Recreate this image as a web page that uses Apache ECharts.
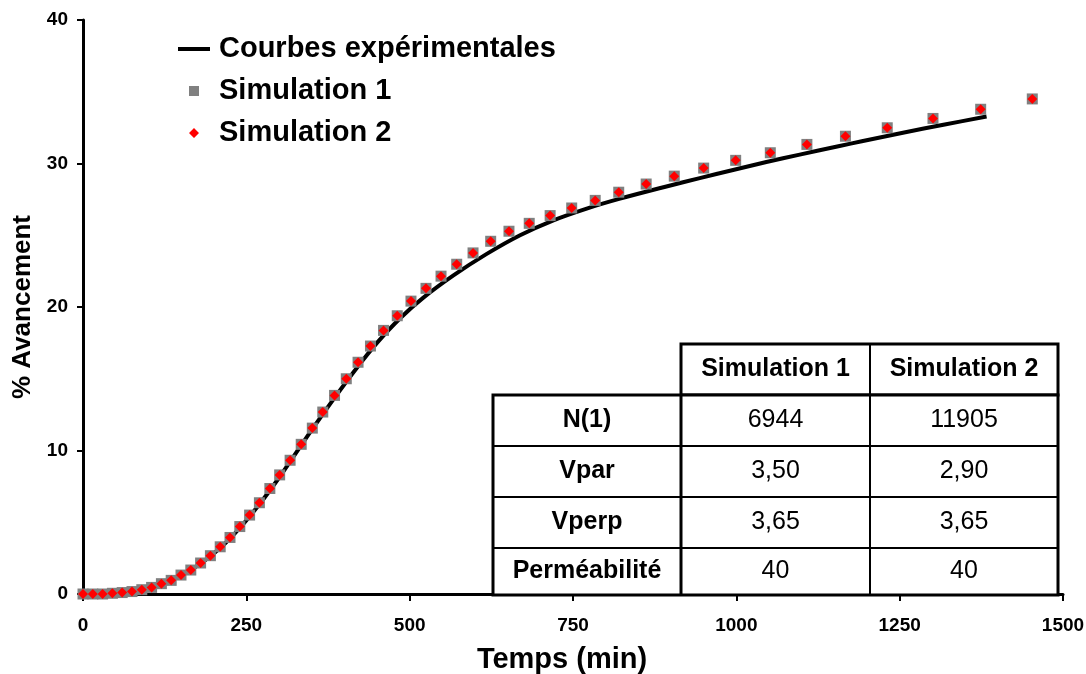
<!DOCTYPE html>
<html>
<head>
<meta charset="utf-8">
<title>% Avancement</title>
<script src="https://cdn.jsdelivr.net/npm/echarts@6/dist/echarts.min.js"></script>
<style>
  html, body { margin: 0; padding: 0; background: #ffffff; }
  #chart { width: 1086px; height: 674px; }
</style>
</head>
<body>
<div id="chart"></div>
<script>
// Experimental curve (time in min, % advancement)
const expTime = [0, 30, 60, 90, 120, 150, 180, 210, 240, 270, 300, 330, 355, 383, 419, 450, 485, 521, 567, 618, 669, 720, 771, 822, 893, 944, 995, 1046, 1097, 1158, 1192, 1255, 1319, 1383];
const expValue = [0, 0.03, 0.12, 0.33, 0.72, 1.3, 2.12, 3.2, 4.6, 6.25, 8.1, 10.1, 11.75, 13.55, 15.75, 17.5, 19.2, 20.65, 22.2, 23.7, 25.0, 26.04, 26.86, 27.55, 28.4, 28.98, 29.55, 30.1, 30.62, 31.22, 31.55, 32.14, 32.72, 33.27];

// Simulated points
const simTime = [0, 15, 30, 45, 60, 75, 90, 105, 120, 135, 150, 165, 180, 195, 210, 225, 240, 255, 270, 286, 301, 317, 334, 351, 367, 385, 403, 421, 440, 460, 481, 502, 525, 548, 572, 597, 624, 652, 683, 715, 748, 784, 820, 862, 905, 950, 999, 1052, 1108, 1167, 1231, 1301, 1374, 1453];
const sim1Value = [0, 0, 0, 0.05, 0.1, 0.17, 0.3, 0.46, 0.72, 0.95, 1.32, 1.67, 2.16, 2.67, 3.29, 3.94, 4.7, 5.5, 6.36, 7.35, 8.3, 9.32, 10.43, 11.56, 12.68, 13.84, 15.0, 16.15, 17.28, 18.37, 19.39, 20.41, 21.3, 22.15, 22.98, 23.77, 24.58, 25.28, 25.83, 26.37, 26.9, 27.43, 28.0, 28.57, 29.12, 29.68, 30.22, 30.75, 31.33, 31.9, 32.49, 33.14, 33.78, 34.5];
const sim2Value = [0, 0, 0, 0.05, 0.1, 0.17, 0.3, 0.46, 0.72, 0.95, 1.32, 1.67, 2.16, 2.67, 3.29, 3.94, 4.7, 5.5, 6.36, 7.35, 8.3, 9.32, 10.43, 11.56, 12.68, 13.84, 15.0, 16.15, 17.28, 18.37, 19.39, 20.41, 21.3, 22.15, 22.98, 23.77, 24.58, 25.28, 25.83, 26.37, 26.9, 27.43, 28.0, 28.57, 29.12, 29.68, 30.22, 30.75, 31.33, 31.9, 32.49, 33.14, 33.78, 34.5];

const seriesNames = ['Courbes expérimentales', 'Simulation 1', 'Simulation 2'];

// Parameter table
const tableHeader = ['Simulation 1', 'Simulation 2'];
const tableRows = ['N(1)', 'Vpar', 'Vperp', 'Perméabilité'];
const sim1Params = ['6944', '3,50', '3,65', '40'];
const sim2Params = ['11905', '2,90', '3,65', '40'];

const FONT = "'Liberation Sans', Arial, Helvetica, sans-serif";

function pairs(xs, ys) {
  return xs.map((x, i) => [x, ys[i]]);
}

// Legend icons: 32x10 boxes; the tiny corner specks pin the bounding box so
// the square / diamond keep their size in the middle of the box.
const PIN = ' M0,0h0.01v0.01h-0.01Z M31.99,9.99h0.01v0.01h-0.01Z';
const ICON_LINE = 'path://M0,3H32V7H0Z' + PIN;
const ICON_SQUARE = 'path://M11,0H21V10H11Z' + PIN;
const ICON_DIAMOND = 'path://M16,0L21,5L16,10L11,5Z' + PIN;

// Table layout (pixels)
const colX = [493, 681, 870, 1058];
const rowY = [344, 395, 446, 497, 548, 595];

function buildTable() {
  const els = [];
  els.push({ type: 'rect', shape: { x: colX[1], y: rowY[0], width: colX[3] - colX[1], height: rowY[1] - rowY[0] },
    style: { fill: '#fff', stroke: '#000', lineWidth: 3 }, z: 10 });
  els.push({ type: 'rect', shape: { x: colX[0], y: rowY[1], width: colX[3] - colX[0], height: rowY[5] - rowY[1] },
    style: { fill: '#fff', stroke: '#000', lineWidth: 3 }, z: 10 });
  els.push({ type: 'line', shape: { x1: colX[1], y1: rowY[1], x2: colX[1], y2: rowY[5] },
    style: { stroke: '#000', lineWidth: 3 }, z: 11 });
  els.push({ type: 'line', shape: { x1: colX[2], y1: rowY[0], x2: colX[2], y2: rowY[5] },
    style: { stroke: '#000', lineWidth: 2 }, z: 11 });
  for (let r = 2; r <= 4; r++) {
    els.push({ type: 'line', shape: { x1: colX[0], y1: rowY[r], x2: colX[3], y2: rowY[r] },
      style: { stroke: '#000', lineWidth: 2 }, z: 11 });
  }
  const cellText = (txt, c, r, bold) => ({
    type: 'text', z: 12,
    x: (colX[c] + colX[c + 1]) / 2, y: (rowY[r] + rowY[r + 1]) / 2,
    style: { text: txt, font: (bold ? 'bold ' : '') + '25px ' + FONT, fill: '#000', align: 'center', verticalAlign: 'middle' }
  });
  tableHeader.forEach((h, i) => els.push(cellText(h, i + 1, 0, true)));
  tableRows.forEach((name, i) => {
    els.push(cellText(name, 0, i + 1, true));
    els.push(cellText(sim1Params[i], 1, i + 1, false));
    els.push(cellText(sim2Params[i], 2, i + 1, false));
  });
  return els;
}

const chart = echarts.init(document.getElementById('chart'), null, { renderer: 'canvas' });

chart.setOption({
  animation: false,
  backgroundColor: '#ffffff',
  textStyle: { fontFamily: FONT },
  grid: { left: 83, right: 23, top: 20, bottom: 80, containLabel: false, outerBoundsMode: 'none' },
  legend: {
    orient: 'vertical',
    left: 173,
    top: 29,
    itemWidth: 32,
    itemHeight: 10,
    itemGap: 12,
    data: [
      { name: seriesNames[0], icon: ICON_LINE },
      { name: seriesNames[1], icon: ICON_SQUARE },
      { name: seriesNames[2], icon: ICON_DIAMOND }
    ],
    textStyle: { fontFamily: FONT, fontWeight: 'bold', fontSize: 29, color: '#000', lineHeight: 30, padding: [0, 0, 0, 4] }
  },
  xAxis: {
    type: 'value',
    min: 0, max: 1500, interval: 250,
    name: 'Temps (min)',
    nameLocation: 'middle',
    nameGap: 51,
    nameTextStyle: { fontFamily: FONT, fontWeight: 'bold', fontSize: 29, color: '#000', padding: [0, 22, 0, 0] },
    axisLine: { show: true, onZero: false, lineStyle: { color: '#000', width: 3 } },
    axisTick: { show: true, length: 7, lineStyle: { color: '#000', width: 2 } },
    axisLabel: { fontFamily: FONT, fontWeight: 'bold', fontSize: 19, color: '#000', margin: 22, formatter: v => String(v) },
    splitLine: { show: false }
  },
  yAxis: {
    type: 'value',
    min: 0, max: 40, interval: 10,
    name: '% Avancement',
    nameLocation: 'middle',
    nameGap: 47,
    nameTextStyle: { fontFamily: FONT, fontWeight: 'bold', fontSize: 26, color: '#000' },
    axisLine: { show: true, onZero: false, lineStyle: { color: '#000', width: 3 } },
    axisTick: { show: true, length: 6, lineStyle: { color: '#000', width: 2 } },
    axisLabel: { fontFamily: FONT, fontWeight: 'bold', fontSize: 19, color: '#000', margin: 15 },
    splitLine: { show: false }
  },
  series: [
    {
      name: seriesNames[0],
      type: 'line',
      data: pairs(expTime, expValue),
      symbol: 'none',
      smooth: 0.35,
      lineStyle: { color: '#000', width: 4 },
      itemStyle: { color: '#000' },
      z: 2
    },
    {
      name: seriesNames[1],
      type: 'scatter',
      data: pairs(simTime, sim1Value),
      symbol: 'rect',
      symbolSize: 11,
      itemStyle: { color: '#808080', opacity: 1 },
      z: 3
    },
    {
      name: seriesNames[2],
      type: 'scatter',
      data: pairs(simTime, sim2Value),
      symbol: 'diamond',
      symbolSize: 10,
      itemStyle: { color: '#ff0000', opacity: 1 },
      z: 4
    }
  ],
  graphic: buildTable()
});
</script>
</body>
</html>
